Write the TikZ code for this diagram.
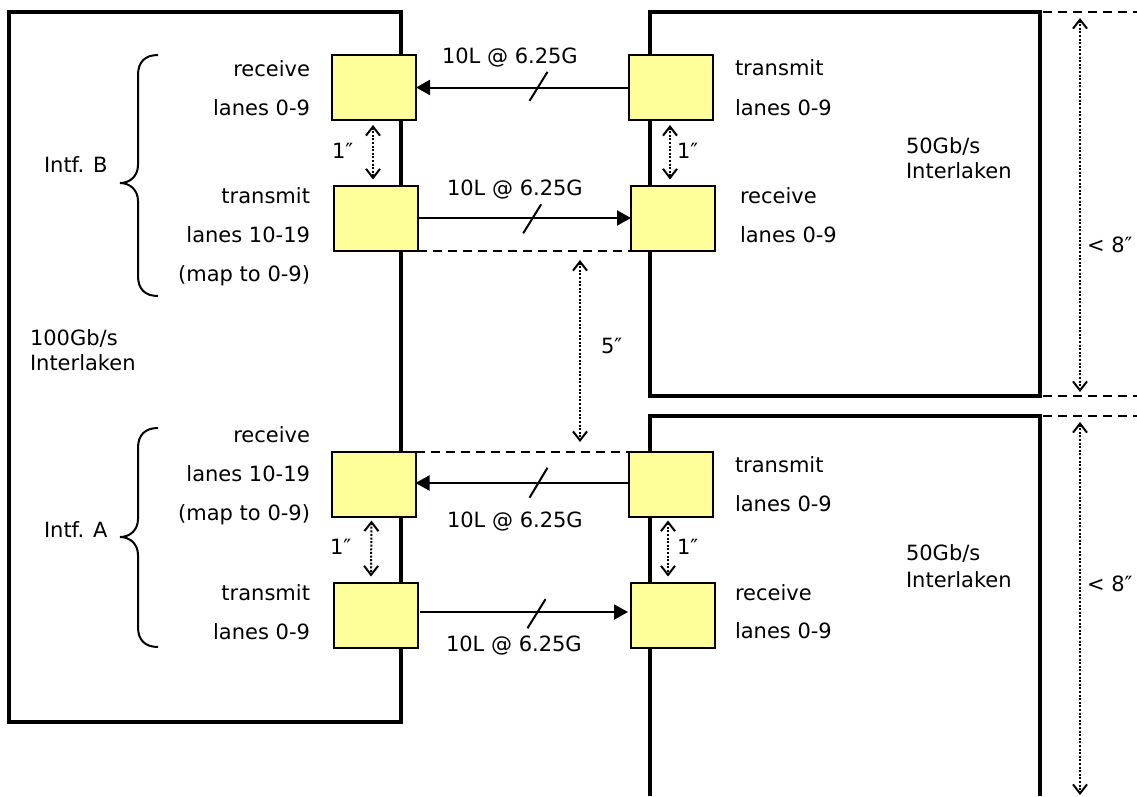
\documentclass[tikz,border=0pt]{standalone}
\usepackage{fontspec}
\setmainfont{DejaVu Sans}
\usetikzlibrary{arrows.meta}
\definecolor{chipyellow}{HTML}{FFFF99}
\begin{document}
\begin{tikzpicture}[x=1pt,y=-1pt,
  every node/.style={font=\fontsize{21}{25}\selectfont, inner sep=0pt, outer sep=0pt},
  chip/.style={draw, line width=2pt, fill=chipyellow, minimum width=84pt, minimum height=65pt},
  frame/.style={line width=4.5pt},
  link/.style={line width=2pt, -{Triangle[length=14pt,width=15pt]}},
  slash/.style={line width=2pt},
  guide/.style={line width=2pt, dash pattern=on 9pt off 6pt},
  dim/.style={line width=2pt, dash pattern=on 2pt off 1.6pt,
     {Straight Barb[length=9pt,width=14pt]}-{Straight Barb[length=9pt,width=14pt]}},
  lbl/.style={anchor=base east},
  rlbl/.style={anchor=base west},
  brace/.style={line width=2pt}
]
\useasboundingbox (0,0) rectangle (1137,796);

% outer frames
\draw[frame] (9,12) rectangle (401,722);
\draw[frame] (650,12) rectangle (1040,396);
\draw[frame] (650,796) -- (650,416) -- (1040,416) -- (1040,796);

% right-hand guide lines
\draw[guide] (1043,12) -- (1137,12);
\draw[guide] (1043,396) -- (1137,396);
\draw[guide] (1043,416) -- (1137,416);

% chips
\node[chip] (brx) at (374,87.5) {};
\node[chip] (btx) at (376,218) {};
\node[chip] (rtxB) at (671,87.5) {};
\node[chip] (rrxB) at (673,218) {};
\node[chip] (arx) at (373.5,484) {};
\node[chip] (atx) at (376,615) {};
\node[chip] (rtxA) at (671,484) {};
\node[chip] (rrxA) at (673,615) {};

% links
\draw[link] (rtxB.west) -- (brx.east);
\draw[link] (btx.east) -- (rrxB.west);
\draw[link] ([yshift=1pt]rtxA.west) -- ([yshift=1pt]arx.east);
\draw[link] ([yshift=3pt,xshift=2pt]atx.east) -- ([yshift=3pt,xshift=-3pt]rrxA.west);

\draw[slash] (538.5,86.4) ++(-9,14.5) -- ++(18,-29);
\draw[slash] (532.2,218.8) ++(-9,14.5) -- ++(18,-29);
\draw[slash] (538.5,482.7) ++(-9,15) -- ++(18,-30);
\draw[slash] (536.5,613.7) ++(-9,14.5) -- ++(18,-29);

% dashed references
\draw[guide] (btx.south east) -- (rrxB.south west);
\draw[guide] (arx.north east) -- (rtxA.north west);

% dotted dimension arrows
\draw[dim] ([xshift=-1pt,yshift=-5pt]brx.south) -- ([xshift=-3pt,yshift=6pt]btx.north);
\draw[dim] ([xshift=-2pt,yshift=-4pt]arx.south) -- ([xshift=-5pt,yshift=6pt]atx.north);
\draw[dim] ([xshift=-1pt,yshift=-5pt]rtxB.south) -- ([xshift=-3pt,yshift=6pt]rrxB.north);
\draw[dim] ([xshift=-3pt,yshift=-4pt]rtxA.south) -- ([xshift=-5pt,yshift=6pt]rrxA.north);
\coordinate (f1) at (580,260);
\coordinate (f2) at (580,442);
\draw[dim] (f1) -- (f2);
\coordinate (h1) at (1080,18);
\coordinate (h2) at (1080,392);
\draw[dim] (h1) -- (h2);
\coordinate (h3) at (1080,422);
\coordinate (h4) at (1080,795);
\draw[dim] (h3) -- (h4);

% braces
\draw[brace] (158,55) .. controls (145,55) and (138,62) .. (138,75) -- (138,165)
  .. controls (138,176) and (130,183) .. (120,183)
  .. controls (130,183) and (138,190) .. (138,201) -- (138,276)
  .. controls (138,289) and (145,296) .. (158,296);
\draw[brace] (158,428) .. controls (145,428) and (138,435) .. (138,448) -- (138,519)
  .. controls (138,530) and (130,537) .. (120,537)
  .. controls (130,537) and (138,544) .. (138,555) -- (138,627)
  .. controls (138,640) and (145,647) .. (158,647);

% left texts
\node[lbl] (l1) at (310,76) {receive};
\node[lbl] (l2) at (310,115) {lanes 0-9};
\node[rlbl] (ib) at (44,172) {Intf. B};
\node[lbl] (l3) at (310,203) {transmit};
\node[lbl] (l4) at (310,242) {lanes 10-19};
\node[lbl] (l5) at (310,281) {(map to 0-9)};
\node[rlbl] (big1) at (30,345) {100Gb/s};
\node[rlbl] (big2) at (30,370) {Interlaken};
\node[lbl] (l6) at (310,442) {receive};
\node[lbl] (l7) at (310,481) {lanes 10-19};
\node[lbl] (l8) at (310,520) {(map to 0-9)};
\node[rlbl] (ia) at (44,537) {Intf. A};
\node[lbl] (l9) at (310,600) {transmit};
\node[lbl] (l10) at (310,639) {lanes 0-9};

% right texts
\node[rlbl] (r1) at (735,75) {transmit};
\node[rlbl] (r2) at (735,115) {lanes 0-9};
\node[rlbl] (r3) at (740,203) {receive};
\node[rlbl] (r4) at (740,242) {lanes 0-9};
\node[rlbl] (s1) at (906,153) {50Gb/s};
\node[rlbl] (s2) at (906,178) {Interlaken};
\node[rlbl] (r5) at (735,472) {transmit};
\node[rlbl] (r6) at (735,511) {lanes 0-9};
\node[rlbl] (r7) at (735,600) {receive};
\node[rlbl] (r8) at (735,638) {lanes 0-9};
\node[rlbl] (s3) at (906,560) {50Gb/s};
\node[rlbl] (s4) at (906,587) {Interlaken};

% link labels
\node[rlbl] (k1) at (442,63) {10L @ 6.25G};
\node[rlbl] (k2) at (447,195) {10L @ 6.25G};
\node[rlbl] (k3) at (447,527) {10L @ 6.25G};
\node[rlbl] (k4) at (446,651) {10L @ 6.25G};

% dimension labels
\node[rlbl] (d1) at (332,158) {1″};
\node[rlbl] (d2) at (330,554) {1″};
\node[rlbl] (d3) at (677,158) {1″};
\node[rlbl] (d4) at (677,554) {1″};
\node[rlbl] (d5) at (601,353) {5″};
\node[rlbl] (d6) at (1087,252) {< 8″};
\node[rlbl] (d7) at (1087,591) {< 8″};
\end{tikzpicture}
\end{document}
